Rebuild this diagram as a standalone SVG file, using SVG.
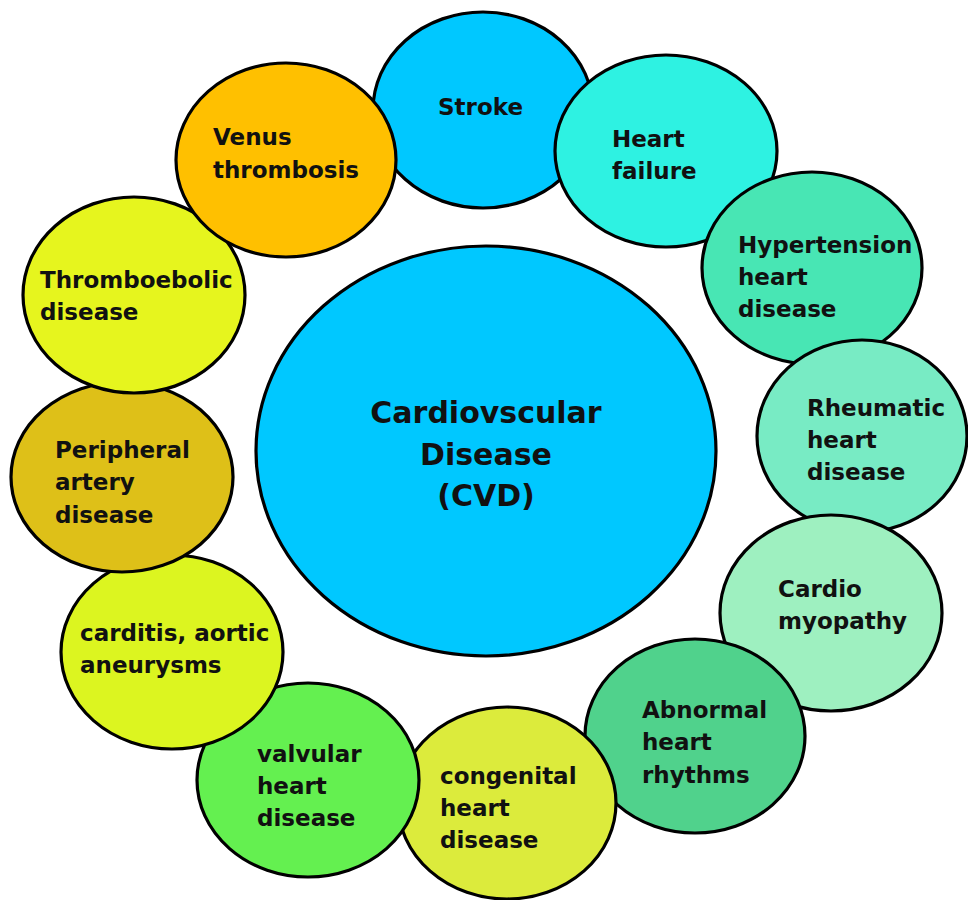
<svg xmlns="http://www.w3.org/2000/svg" width="968" height="900" viewBox="0 0 968 900">
  <style>
    .bubble { stroke: #000; stroke-width: 3.2; }
    .lbl { font-family: "DejaVu Sans", Verdana, sans-serif; font-weight: bold; font-size: 23px; fill: #111; }
    .hub { font-family: "DejaVu Sans", Verdana, sans-serif; font-weight: bold; font-size: 30px; fill: #111; text-anchor: middle; }
  </style>
  <rect width="968" height="900" fill="#fff"/>

  <!-- central node -->
  <g id="cvd">
    <ellipse class="bubble" cx="486" cy="451" rx="230" ry="205" fill="#00C8FF"/>
    <text class="hub" x="486" y="423">Cardiovscular</text>
    <text class="hub" x="486" y="465">Disease</text>
    <text class="hub" x="486" y="506">(CVD)</text>
  </g>

  <!-- no connectors: the ring of bubbles surrounds the hub -->
  <g id="connectors"></g>

  <!-- ring, drawn in stacking order -->
  <g id="stroke">
    <ellipse class="bubble" cx="483" cy="110" rx="110" ry="98" fill="#00C8FF"/>
    <text class="lbl" x="438" y="115">Stroke</text>
  </g>
  <g id="heart-failure">
    <ellipse class="bubble" cx="666" cy="151" rx="111" ry="96" fill="#2EF2E2"/>
    <text class="lbl" x="612" y="147">Heart</text>
    <text class="lbl" x="612" y="179">failure</text>
  </g>
  <g id="hypertension">
    <ellipse class="bubble" cx="812" cy="268" rx="110" ry="96" fill="#48E6B4"/>
    <text class="lbl" x="738" y="253">Hypertension</text>
    <text class="lbl" x="738" y="285">heart</text>
    <text class="lbl" x="738" y="317">disease</text>
  </g>
  <g id="rheumatic">
    <ellipse class="bubble" cx="862" cy="436" rx="105" ry="96" fill="#78EBC4"/>
    <text class="lbl" x="807" y="416">Rheumatic</text>
    <text class="lbl" x="807" y="448">heart</text>
    <text class="lbl" x="807" y="480">disease</text>
  </g>
  <g id="cardiomyopathy">
    <ellipse class="bubble" cx="831" cy="613" rx="111" ry="98" fill="#9EF0C0"/>
    <text class="lbl" x="778" y="597">Cardio</text>
    <text class="lbl" x="778" y="629">myopathy</text>
  </g>
  <g id="abnormal-rhythms">
    <ellipse class="bubble" cx="695" cy="736" rx="110" ry="97" fill="#50D28C"/>
    <text class="lbl" x="642" y="718">Abnormal</text>
    <text class="lbl" x="642" y="750">heart</text>
    <text class="lbl" x="642" y="783">rhythms</text>
  </g>
  <g id="congenital">
    <ellipse class="bubble" cx="507" cy="803" rx="109" ry="96" fill="#DCEB3C"/>
    <text class="lbl" x="440" y="784">congenital</text>
    <text class="lbl" x="440" y="816">heart</text>
    <text class="lbl" x="440" y="848">disease</text>
  </g>
  <g id="valvular">
    <ellipse class="bubble" cx="308" cy="780" rx="111" ry="97" fill="#64F050"/>
    <text class="lbl" x="257" y="762">valvular</text>
    <text class="lbl" x="257" y="794">heart</text>
    <text class="lbl" x="257" y="826">disease</text>
  </g>
  <g id="carditis">
    <ellipse class="bubble" cx="172" cy="652" rx="111" ry="97" fill="#DCF520"/>
    <text class="lbl" x="80" y="641">carditis, aortic</text>
    <text class="lbl" x="80" y="673">aneurysms</text>
  </g>
  <g id="peripheral">
    <ellipse class="bubble" cx="122" cy="477" rx="111" ry="95" fill="#DEC018"/>
    <text class="lbl" x="55" y="458">Peripheral</text>
    <text class="lbl" x="55" y="490">artery</text>
    <text class="lbl" x="55" y="523">disease</text>
  </g>
  <g id="thromboebolic">
    <ellipse class="bubble" cx="134" cy="295" rx="111" ry="98" fill="#E6F51E"/>
    <text class="lbl" x="40" y="288">Thromboebolic</text>
    <text class="lbl" x="40" y="320">disease</text>
  </g>
  <g id="venus">
    <ellipse class="bubble" cx="286" cy="160" rx="110" ry="97" fill="#FFC000"/>
    <text class="lbl" x="213" y="145">Venus</text>
    <text class="lbl" x="213" y="178">thrombosis</text>
  </g>
</svg>
